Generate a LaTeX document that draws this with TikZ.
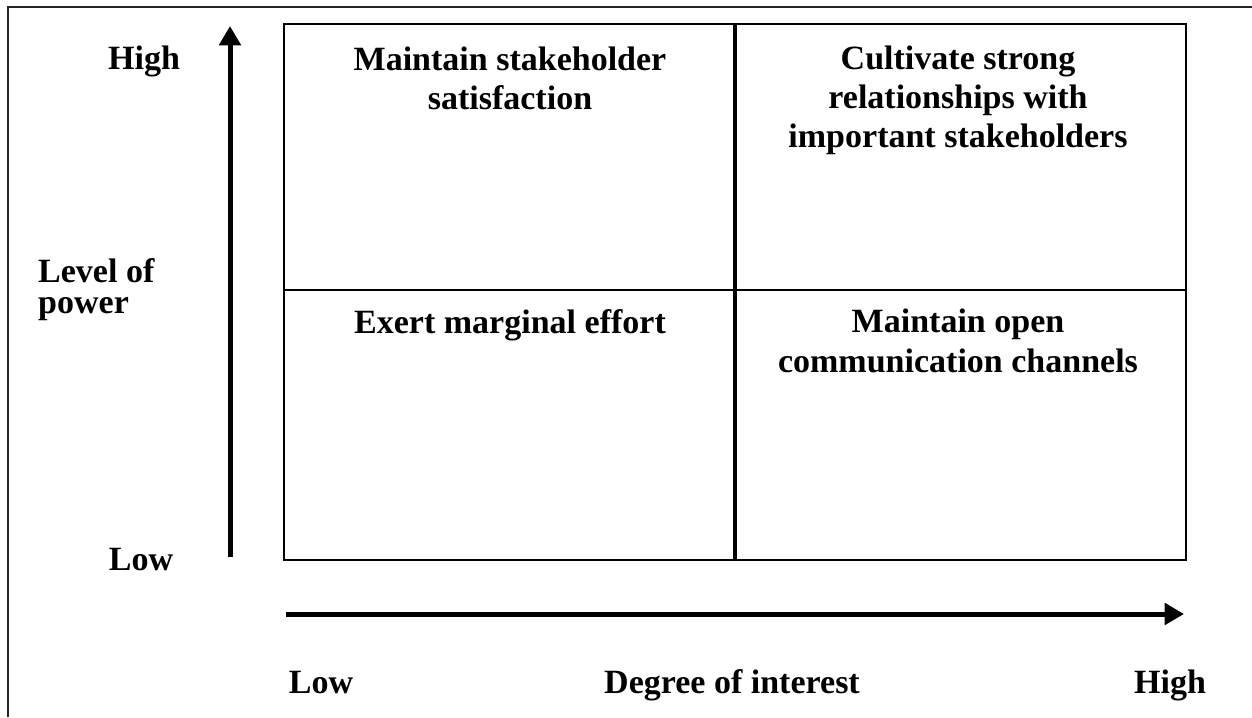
\documentclass[tikz,border=0pt]{standalone}
\usepackage{fontspec}
\setmainfont{Liberation Serif}
\usetikzlibrary{arrows.meta}

\begin{document}
\begin{tikzpicture}[every node/.style={font=\bfseries\fontsize{19.35}{22.2}\selectfont}]

  \useasboundingbox (0,0) rectangle (25.04,14.34);

  % outer frame, only top and left edges
  \draw [line width=1.1pt,black!85] (0.16,0) -- (0.16,14.2) -- (25.04,14.2);

  % the four boxes
  \draw [line width=1.6pt] (5.68,3.14) rectangle (23.72,13.86);
  \draw [line width=1.6pt] (5.68,8.54) -- (23.72,8.54);
  \draw [line width=2.5pt] (14.70,3.14) -- (14.70,13.86);

  % base anchor sits on the last line of each text
  \node [anchor=base,align=center] at (10.2,12.14) (TL) {Maintain stakeholder\\satisfaction};
  \node [anchor=base,align=center] at (19.16,11.38) (TR) {Cultivate strong\\relationships with\\important stakeholders};
  \node [anchor=base,align=center] at (10.2,7.68) (BL) {Exert marginal effort};
  \node [anchor=base,align=center] at (19.16,6.9) (BR) {Maintain open\\communication channels};

  % power axis
  \coordinate (P0) at (4.6,3.2);
  \coordinate (P1) at (4.6,13.82);
  \draw [line width=2.85pt,-{Triangle[length=11pt,width=12pt]}] (P0) -- (P1);
  \node [anchor=base] at (2.88,12.94) (Phigh) {High};
  \node [anchor=base] at (2.82,2.94) (Plow) {Low};
  \node [anchor=base west,align=left,font=\bfseries\fontsize{19.35}{17.6}\selectfont] at (0.64,8.08) (power) {Level of\\power};

  % interest axis
  \coordinate (I0) at (5.72,2.06);
  \coordinate (I1) at (23.68,2.06);
  \draw [line width=2.85pt,-{Triangle[length=11pt,width=12pt]}] (I0) -- (I1);
  \node [anchor=base] at (6.42,0.48) (Ilow) {Low};
  \node [anchor=base] at (14.64,0.48) (interest) {Degree of interest};
  \node [anchor=base] at (23.4,0.48) (Ihigh) {High};

\end{tikzpicture}
\end{document}
